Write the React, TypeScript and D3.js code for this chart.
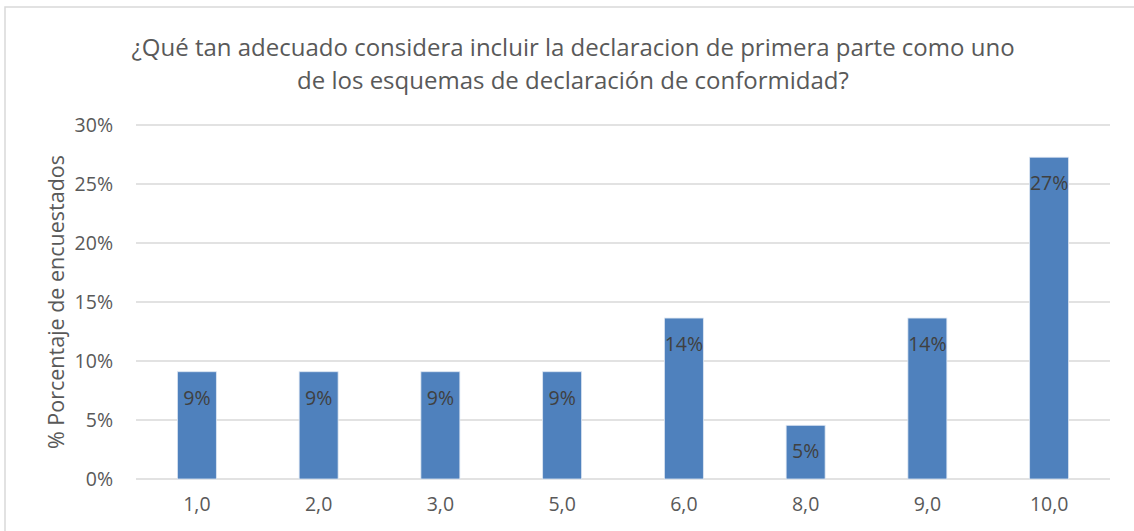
import React from "react";
import * as d3 from "d3";

const categories = ["1,0", "2,0", "3,0", "5,0", "6,0", "8,0", "9,0", "10,0"];
const values = [9.09, 9.09, 9.09, 9.09, 13.64, 4.55, 13.64, 27.27];
const valueLabels = ["9%", "9%", "9%", "9%", "14%", "5%", "14%", "27%"];
const yTicks = [0, 5, 10, 15, 20, 25, 30];
const titleLines = [
  "¿Qué tan adecuado considera incluir la declaracion de primera parte como uno",
  "de los esquemas de declaración de conformidad?",
];
const yAxisTitle = "% Porcentaje de encuestados";

const W = 1134;
const H = 531;
const FONT = "'Open Sans', 'Noto Sans', sans-serif";

export default function App() {
  const left = 136, right = 1110, top = 125, bottom = 479;
  const x = d3.scaleBand<string>().domain(categories).range([left, right]).paddingInner(0.68).paddingOuter(0.34);
  const y = d3.scaleLinear().domain([0, 30]).range([bottom, top]);
  return (
    <svg width={W} height={H} style={{ position: "absolute", left: 0, top: 0, background: "#fff" }} fontFamily={FONT}>
      <rect x={5} y={7} width={W + 10} height={H + 10} fill="#fff" stroke="#d9d9d9" strokeWidth={1.5} />
      {titleLines.map((t, i) => (
        <text key={i} x={573} y={56 + i * 33} textAnchor="middle" fontSize={24} fill="#595959">{t}</text>
      ))}
      {yTicks.map((t) => (
        <g key={t}>
          <line x1={left} x2={right} y1={y(t)} y2={y(t)} stroke="#d9d9d9" strokeWidth={1.5} />
          <text x={113} y={y(t) + 7} textAnchor="end" fontSize={19.5} fill="#595959">{t}%</text>
        </g>
      ))}
      <text transform={`translate(64,${(top + bottom) / 2}) rotate(-90)`} textAnchor="middle" fontSize={21.5} fill="#595959">{yAxisTitle}</text>
      {categories.map((c, i) => (
        <g key={c}>
          <rect x={x(c)} y={y(values[i])} width={x.bandwidth()} height={bottom - y(values[i])} fill="#4f81bd" stroke="#dde6f2" strokeWidth={0.8} />
          <text x={x(c)! + x.bandwidth() / 2} y={y(values[i]) + 33} textAnchor="middle" fontSize={19.5} fill="#404040">{valueLabels[i]}</text>
          <text x={x(c)! + x.bandwidth() / 2} y={511} textAnchor="middle" fontSize={19.5} fill="#595959">{c}</text>
        </g>
      ))}
    </svg>
  );
}
